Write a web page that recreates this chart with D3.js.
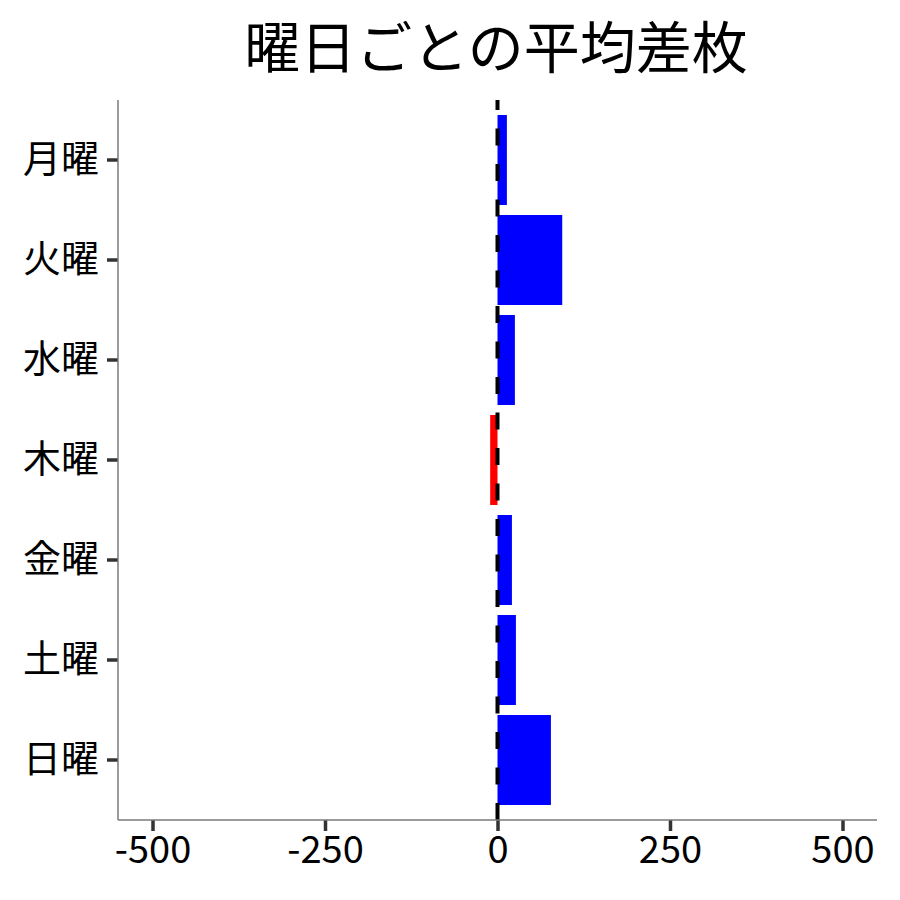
<!DOCTYPE html>
<html>
<head>
<meta charset="utf-8">
<script src="https://cdn.jsdelivr.net/npm/d3@7"></script>
<style>
  body { margin: 0; background: #fff; }
  text { font-family: "Noto Sans CJK JP", "Noto Sans", sans-serif; }
</style>
</head>
<body>
<div id="chart"></div>
<script>
var days = ["月曜", "火曜", "水曜", "木曜", "金曜", "土曜", "日曜"];
var avgDiff = [13.6, 93.8, 25.2, -10.6, 20.9, 26.7, 77.4];
var xTicks = [-500, -250, 0, 250, 500];
var chartTitle = "曜日ごとの平均差枚";

var config = {
    width: 900,
    height: 900,
    left: 118,
    right: 877,
    top: 100,
    bottom: 820
}

var svg = d3.select("#chart").append("svg")
    .attr("width", config.width)
    .attr("height", config.height);

var x = d3.scaleLinear()
    .domain([-550, 550])
    .range([config.left, config.right]);

// discrete axis, 0.6 units of padding on each end
var y = d3.scaleBand()
    .domain(days)
    .range([config.top, config.bottom])
    .paddingInner(0.1)
    .paddingOuter(0.15);

svg.append("text")
    .attr("x", 496)
    .attr("y", 68)
    .attr("text-anchor", "middle")
    .style("font-size", "56px")
    .text(chartTitle);

var rows = days.map(function (d, i) {
    return { day: d, value: avgDiff[i] };
});

svg.append("g").selectAll("rect")
    .data(rows)
    .enter().append("rect")
    .attr("x", function (d) { return x(Math.min(0, d.value)); })
    .attr("y", function (d) { return y(d.day); })
    .attr("width", function (d) { return Math.abs(x(d.value) - x(0)); })
    .attr("height", y.bandwidth())
    .attr("fill", function (d) { return d.value >= 0 ? "#0000ff" : "#ff0000"; });

// zero reference line
svg.append("line")
    .attr("x1", x(0)).attr("x2", x(0))
    .attr("y1", config.bottom).attr("y2", config.top)
    .attr("stroke", "#000")
    .attr("stroke-width", 4)
    .attr("stroke-dasharray", "17,18.5");

// x axis
var xAxis = svg.append("g")
    .attr("transform", "translate(0," + config.bottom + ")")
    .call(d3.axisBottom(x).tickValues(xTicks).tickSize(11).tickPadding(5)
        .tickFormat(function (d) { return String(d); }));
xAxis.select(".domain").remove();
xAxis.selectAll(".tick line").attr("stroke", "#333").attr("stroke-width", 3.5);
xAxis.selectAll(".tick text")
    .attr("fill", "#000")
    .style("font-size", "38px")
    .style("font-family", "Noto Sans CJK JP");

// y axis
var yAxis = svg.append("g")
    .attr("transform", "translate(" + config.left + ",0)")
    .call(d3.axisLeft(y).tickSize(11).tickPadding(8));
yAxis.select(".domain").remove();
yAxis.selectAll(".tick line").attr("stroke", "#333").attr("stroke-width", 3.5);
yAxis.selectAll(".tick text")
    .attr("fill", "#000")
    .style("font-size", "38px")
    .style("font-family", "Noto Sans CJK JP");

// axis lines
svg.append("line")
    .attr("x1", config.left).attr("x2", config.right)
    .attr("y1", config.bottom).attr("y2", config.bottom)
    .attr("stroke", "#7a7a7a").attr("stroke-width", 1.5);
svg.append("line")
    .attr("x1", config.left).attr("x2", config.left)
    .attr("y1", config.top).attr("y2", config.bottom)
    .attr("stroke", "#7a7a7a").attr("stroke-width", 1.5);
</script>
</body>
</html>
